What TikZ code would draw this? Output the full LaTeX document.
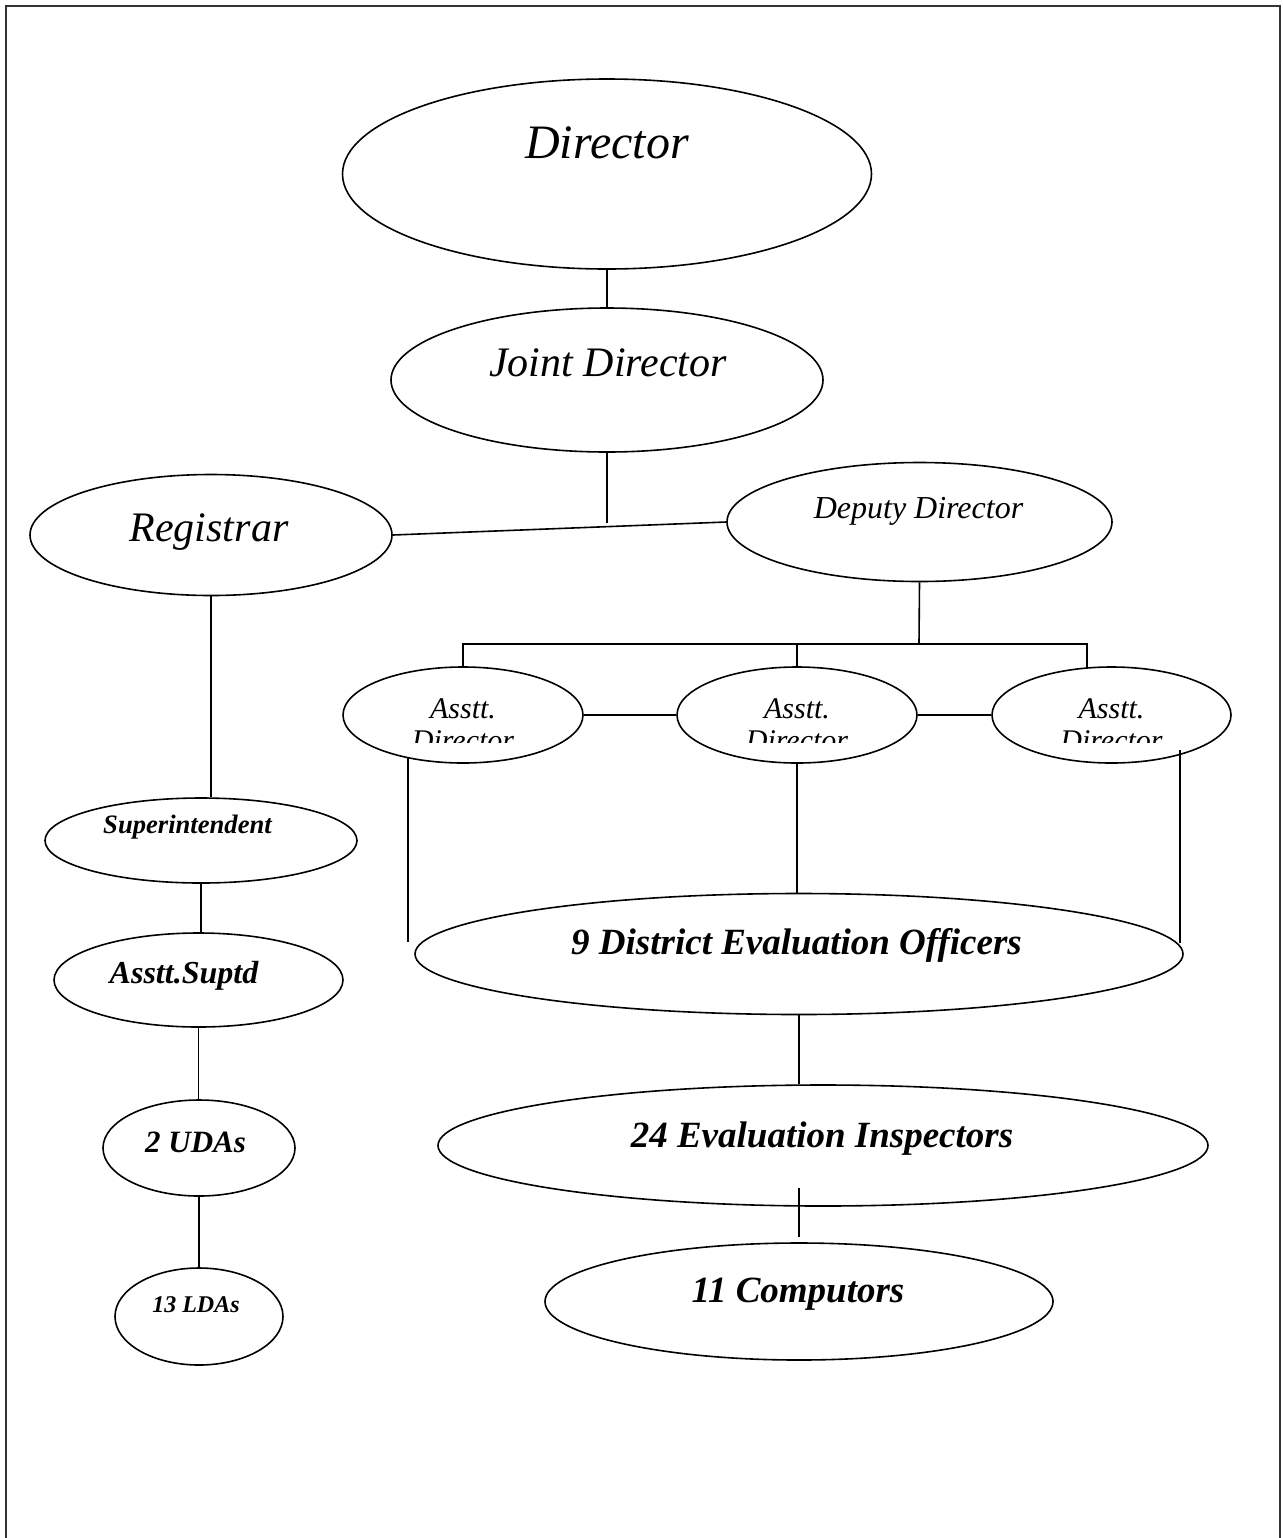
\documentclass[tikz,border=0pt]{standalone}
\usepackage{fontspec}
\setmainfont{Liberation Serif}
\usetikzlibrary{calc,shapes.geometric}
\tikzset{
  oval/.style 2 args={ellipse,draw,inner sep=0pt,minimum width=#1*0.5pt,minimum height=#2*0.5pt},
  lbl/.style={anchor=base,inner sep=0pt,font=\fontsize{#1}{#1}\selectfont\itshape},
  blbl/.style={anchor=base,inner sep=0pt,font=\fontsize{#1}{#1}\selectfont\bfseries\itshape},
  albl/.style={anchor=base,inner sep=0pt,align=center,font=\fontsize{15}{16}\selectfont\itshape}
}
\begin{document}
\begin{tikzpicture}[x=0.5pt,y=-0.5pt,line width=0.8pt]
\useasboundingbox (0,0) rectangle (1283,1538);
\draw[line width=1pt,black!80] (6,1538) -- (6,6) -- (1280,6) -- (1280,1538);
% ovals
\node[oval={529}{190}] (dir) at (607,174) {};
\node[oval={432}{144}] (jd) at (607,380) {};
\node[oval={362}{121}] (reg) at (211,535) {};
\node[oval={385}{119}] (dep) at (919.5,522) {};
\node[oval={240}{96}] (a1) at (463,715) {};
\node[oval={240}{96}] (a2) at (797,715) {};
\node[oval={239}{96}] (a3) at (1111.5,715) {};
\node[oval={768}{121}] (deo) at (799,954) {};
\node[oval={770}{121}] (ei) at (823,1145.5) {};
\node[oval={508}{117}] (comp) at (799,1301.5) {};
\node[oval={312}{85}] (sup) at (201,840.5) {};
\node[oval={289}{94}] (asup) at (198.5,980) {};
\node[oval={192}{96}] (uda) at (199,1148) {};
\node[oval={168}{97}] (lda) at (199,1316.5) {};
% texts
\node[lbl=24] (dirt) at (607,158) {Director};
\node[lbl=21] (jdt) at (608,376) {Joint Director};
\node[lbl=21] (regt) at (209,541) {Registrar};
\node[lbl=16] (dept) at (918.5,518) {Deputy Director};
\begin{scope}
\clip (0,600) rectangle (1283,742);
\node[albl] (a1t) at (463,750) {Asstt.\\Director};
\node[albl] (a2t) at (797,750) {Asstt.\\Director};
\node[albl] (a3t) at (1111.5,750) {Asstt.\\Director};
\end{scope}
\node[blbl=18.5] (deot) at (796.5,954) {9 District Evaluation Officers};
\node[blbl=18.5] (eit) at (822,1147) {24 Evaluation Inspectors};
\node[blbl=18.5] (compt) at (798,1302) {11 Computors};
\node[blbl=13.3] (supt) at (187.5,833) {Superintendent};
\node[blbl=16] (asupt) at (184,983) {Asstt.Suptd};
\node[blbl=15.5] (udat) at (195.5,1152) {2 UDAs};
\node[blbl=12] (ldat) at (196,1312) {13 LDAs};
% connectors
\coordinate (jmid) at (607,523);
\coordinate (dbar) at (919,644);
\coordinate (a3top) at (1087,668);
\coordinate (a1a) at (408,758);
\coordinate (a1b) at (408,942);
\coordinate (a3a) at (1180,750);
\coordinate (a3b) at (1180,943);
\coordinate (c1) at (799,1188);
\coordinate (c2) at (799,1237);
\draw (dir.south) -- (jd.north);
\draw (jd.south) -- (jmid);
\draw (reg.east) -- (dep.west);
\draw (dep.south) -- (dbar);
\draw (a1.north) |- (dbar) -| (a3top);
\draw (a2.north) -- (a2.north |- dbar);
\draw (a1.east) -- (a2.west);
\draw (a2.east) -- (a3.west);
\draw (a1a) -- (a1b);
\draw (a2.south) -- (a2.south |- deo.north);
\draw (a3a) -- (a3b);
\draw (deo.south) -- (deo.south |- ei.north);
\draw (c1) -- (c2);
\draw (reg.south) -- (reg.south |- sup.north);
\draw (sup.south) -- (sup.south |- asup.north);
\draw (asup.south) -- (asup.south |- uda.north);
\draw (uda.south) -- (uda.south |- lda.north);
\end{tikzpicture}
\end{document}
